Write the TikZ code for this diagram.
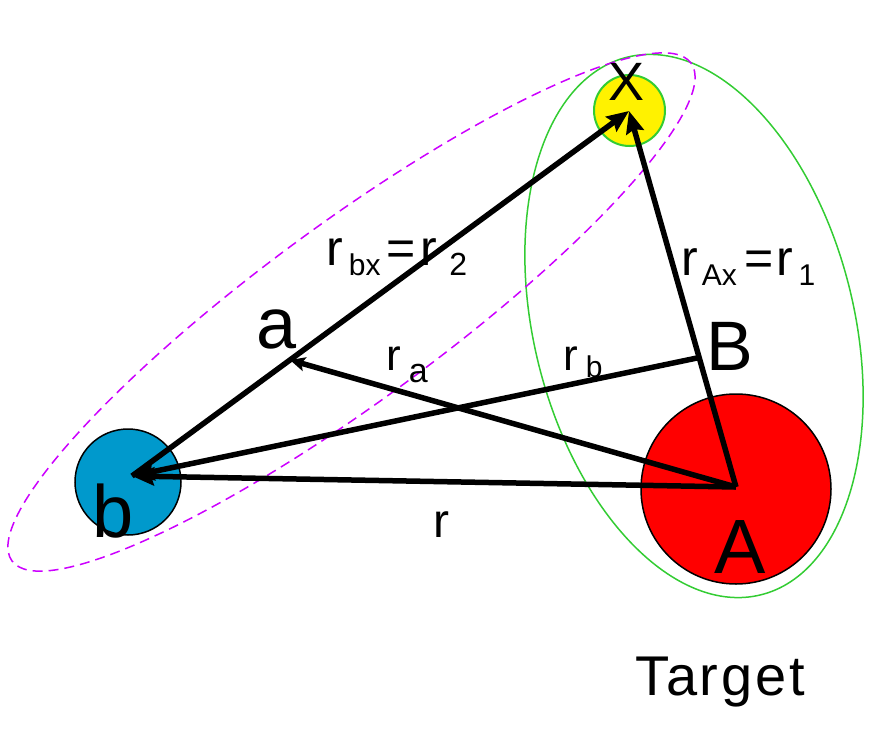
\documentclass[tikz,border=0pt]{standalone}
\usepackage{fontspec}
\setmainfont{Liberation Sans}
\usetikzlibrary{arrows.meta}
\definecolor{mag}{RGB}{204,0,255}
\definecolor{grn}{RGB}{51,204,51}
\definecolor{blu}{RGB}{0,153,204}
\newcommand{\fs}[1]{\fontsize{#1}{#1}\selectfont}
\newcommand{\lsub}[3]{\raisebox{-#1pt}{\fs{#2}#3}}
\begin{document}
\begin{tikzpicture}[x=1pt,y=-1pt,
  lbl/.style={inner sep=0pt, text=black},
  ball/.style={circle, inner sep=0pt},
  arr/.style={line width=5.5pt, -{Stealth[length=22pt,width=18pt,inset=3pt]}},
  arrsmall/.style={line width=5.5pt, -{Stealth[length=15pt,width=14pt,inset=3pt]}},
  grnell/.style={draw=grn, line width=1.5pt},
  magell/.style={draw=mag, line width=1.5pt, dash pattern=on 10pt off 6pt}]
\useasboundingbox (0,0) rectangle (889,744);
% ellipses
\draw[grnell, rotate around={14:(694,326)}] (694,326) ellipse [x radius=160pt, y radius=277pt];
\draw[magell, rotate around={36.25:(351.5,312)}] (351.5,312) ellipse [x radius=421pt, y radius=89pt];
% circles
\node[ball, draw=black, fill=red, line width=1.5pt, minimum size=190pt] (A) at (736,489) {};
\node[ball, draw=grn, fill=yellow, line width=2pt, minimum size=71pt] (X) at (629.5,110.5) {};
\node[ball, draw=black, fill=blu, line width=1.5pt, minimum size=106pt] (b) at (128,482) {};
% points
\coordinate (Ac) at (736,487);
\coordinate (bt) at (132,476);
\coordinate (Xt) at (629,111);
\coordinate (aP) at (290,360);
\coordinate (BP) at (697,358);
% arrows
\draw[arr] (Ac) -- (bt);
\draw[arr] (BP) -- (bt);
\draw[arrsmall] (Ac) -- (aP);
\draw[arr] (bt) -- (Xt);
\draw[arr] (Ac) -- (Xt);
% labels
\node[lbl, anchor=base] (tX) at (627,100) {\fs{54}X};
\node[lbl, anchor=base] (ta) at (277,348) {\fs{72}a};
\node[lbl, anchor=base] (tB) at (730,370) {\fs{70}B};
\node[lbl, anchor=base] (tA) at (740,573) {\fs{77}A};
\node[lbl, anchor=base] (tb) at (113,537) {\fs{74}b};
\node[lbl, anchor=base] (tr) at (441,537) {\fs{48}r};
\node[lbl, anchor=base] (tT) at (720,695) {\fs{56}\addfontfeature{LetterSpace=5}Target};
\node[lbl, anchor=base west] (trbx) at (326,265) {\fs{50}r\hspace{6pt}\lsub{10}{30}{bx}\hspace{6pt}=\hspace{5pt}r\hspace{12pt}\lsub{10}{32}{2}};
\node[lbl, anchor=base west] (trAx) at (681,275) {\fs{50}r\hspace{4pt}\lsub{10}{30}{Ax}\hspace{8pt}=\hspace{2pt}r\hspace{6pt}\lsub{10}{30}{1}};
\node[lbl, anchor=base west] (tra) at (386,370) {\fs{44}r\hspace{8pt}\lsub{12}{34}{a}};
\node[lbl, anchor=base west] (trb) at (563,370) {\fs{44}r\hspace{8pt}\lsub{7}{30}{b}};
\end{tikzpicture}
\end{document}
